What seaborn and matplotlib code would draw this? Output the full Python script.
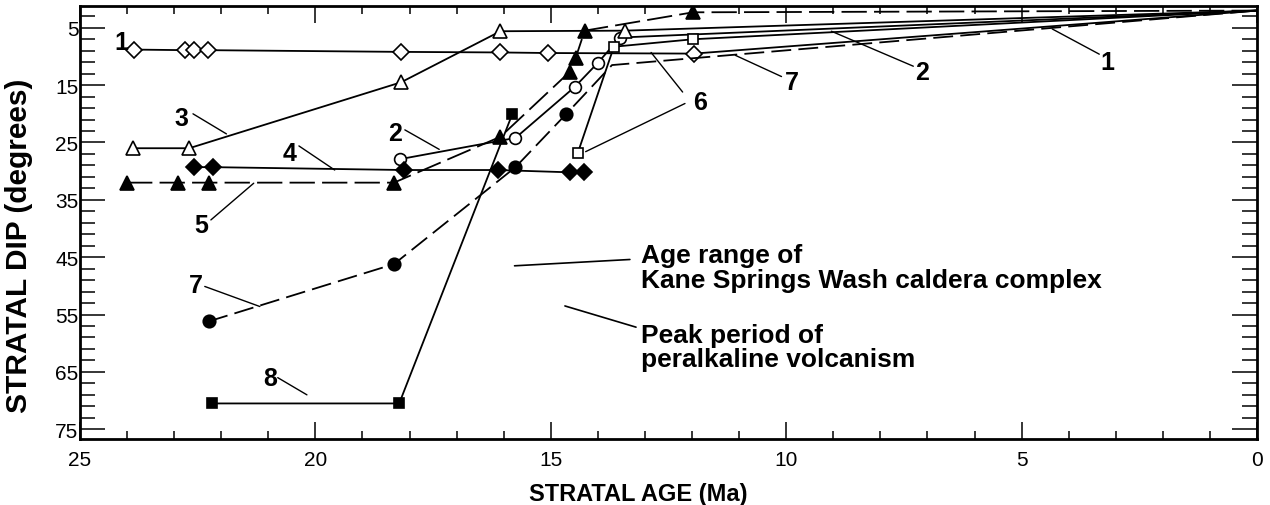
import numpy as np
import pandas as pd
import seaborn as sns
import matplotlib.pyplot as plt

# stratal age (Ma) vs stratal dip (degrees)
# last point of the long lines (0 Ma) = present day dip, no marker there
age1 = [23.85, 22.76, 22.57, 22.29, 18.18, 16.07, 15.05, 11.96, 0]
dip1 = [8.8, 8.9, 8.9, 8.9, 9.2, 9.3, 9.4, 9.5, 2]

age2 = [18.2, 15.75, 14.49, 14.0, 13.53, 0]
dip2 = [27.9, 24.2, 15.3, 11.1, 6.7, 2]

age3 = [23.87, 22.68, 18.18, 16.07, 13.43, 0]
dip3 = [26, 26, 14.5, 5.6, 5.5, 2]

age4 = [22.57, 22.17, 18.11, 16.13, 14.6, 14.3]
dip4 = [29.3, 29.3, 29.8, 29.8, 30.2, 30.2]

age5 = [24.0, 22.91, 22.27, 18.33, 16.07, 14.6, 14.47, 14.28, 11.98, 0]
dip5 = [32, 32, 32, 32, 24, 12.7, 10.2, 5.5, 2.3, 2]

age6 = [14.43, 13.66, 11.98, 0]
dip6 = [26.9, 8.3, 7.0, 2]

age7 = [22.27, 18.33, 15.75, 14.68, 13.7, 0]
dip7 = [56.2, 46.2, 29.3, 20.1, 11.5, 2]

age8 = [22.19, 18.22, 15.82]
dip8 = [70.5, 70.5, 20.1]

sns.set_style("ticks")
plt.rcParams['font.family'] = ['Liberation Sans', 'DejaVu Sans']
for k in ['text.color', 'axes.labelcolor', 'xtick.color', 'ytick.color', 'axes.edgecolor']:
    plt.rcParams[k] = 'black'

fig = plt.figure(figsize=(12.7, 5.06), dpi=100)
ax = fig.add_axes([80/1270, 66/506, 1177/1270, 433/506])

dash5 = (0, (14, 4))
dash7 = (0, (11, 4))
series = [
    (age1, dip1, 'D', 'white', '-', 8, list(range(8))),
    (age2, dip2, 'o', 'white', '-', 8.5, list(range(5))),
    (age3, dip3, '^', 'white', '-', 10, list(range(5))),
    (age4, dip4, 'D', 'black', '-', 8.5, None),
    (age5, dip5, '^', 'black', dash5, 10, list(range(9))),
    (age6, dip6, 's', 'white', '-', 7, list(range(3))),
    (age7, dip7, 'o', 'black', dash7, 9, list(range(4))),
    (age8, dip8, 's', 'black', '-', 7, None),
]

for ages, dips, mk, face, ls, ms, every in series:
    df = pd.DataFrame({'age': ages, 'dip': dips})
    sns.lineplot(data=df, x='age', y='dip', ax=ax, sort=False, estimator=None,
                 color='black', linewidth=1.3, linestyle=ls,
                 marker=mk, markersize=ms, markerfacecolor=face,
                 markeredgecolor='black', markeredgewidth=1.2,
                 markevery=every)

ax.set_xlim(25, 0)
ax.set_ylim(76.7, 1.2)
ax.set_xticks(np.arange(0, 26, 5))
ax.set_xticks(np.arange(0, 26, 1), minor=True)
ax.set_yticks(np.arange(5, 76, 10))
ax.set_yticks(np.arange(3, 77, 2), minor=True)
ax.tick_params(axis='both', which='both', direction='in', top=True, right=True,
               width=1.1, labelsize=15)
ax.tick_params(axis='x', which='major', length=12, pad=8)
ax.tick_params(axis='x', which='minor', length=6)
ax.tick_params(axis='y', which='major', length=18, pad=1)
ax.tick_params(axis='y', which='minor', length=11)
for sp in ax.spines.values():
    sp.set_linewidth(2)
    sp.set_color('black')

ax.set_xlabel('STRATAL AGE (Ma)', fontsize=17, fontweight='bold')
ax.set_ylabel('STRATAL DIP (degrees)', fontsize=21.5, fontweight='bold')
ax.xaxis.set_label_coords(0.474, -0.1)
ax.yaxis.set_label_coords(-0.04, 0.448)

# numbered labels with leader lines
labels = [
    ('1', 24.13, 7.5, None),
    ('3', 22.85, 20.8, ((22.6, 20.0), (21.89, 23.5))),
    ('4', 20.55, 26.9, ((20.35, 25.6), (19.59, 29.8))),
    ('5', 22.42, 39.3, ((22.22, 38.5), (21.31, 32.1))),
    ('2', 18.31, 23.3, ((18.1, 22.8), (17.37, 26.2))),
    ('7', 22.53, 49.8, ((22.35, 50.1), (21.18, 53.6))),
    ('8', 20.97, 66.0, ((20.8, 66.0), (20.18, 69.0))),
    ('6', 11.83, 17.9, ((12.15, 18.2), (14.26, 26.6))),
    ('7', 9.89, 14.5, ((10.1, 13.5), (11.08, 9.8))),
    ('2', 7.12, 12.7, ((7.3, 11.7), (9.04, 5.6))),
    ('1', 3.18, 10.9, ((3.35, 9.6), (4.35, 5.2))),
]
for txt, x, y, lead in labels:
    ax.text(x, y, txt, fontsize=18, fontweight='bold', ha='center', va='center')
    if lead:
        ax.plot([lead[0][0], lead[1][0]], [lead[0][1], lead[1][1]], color='black', lw=1)
ax.plot([12.2, 12.87], [16.2, 9.3], color='black', lw=1)

ax.text(13.09, 46.8, 'Age range of\nKane Springs Wash caldera complex', fontsize=19,
        fontweight='bold', ha='left', va='center', linespacing=1.1)
ax.plot([15.77, 13.32], [46.5, 45.4], color='black', lw=1.2)
ax.text(13.09, 60.7, 'Peak period of\nperalkaline volcanism', fontsize=19,
        fontweight='bold', ha='left', va='center', linespacing=1.0)
ax.plot([14.7, 13.19], [53.5, 57.2], color='black', lw=1.2)

fig.savefig('out.png', dpi=100)
